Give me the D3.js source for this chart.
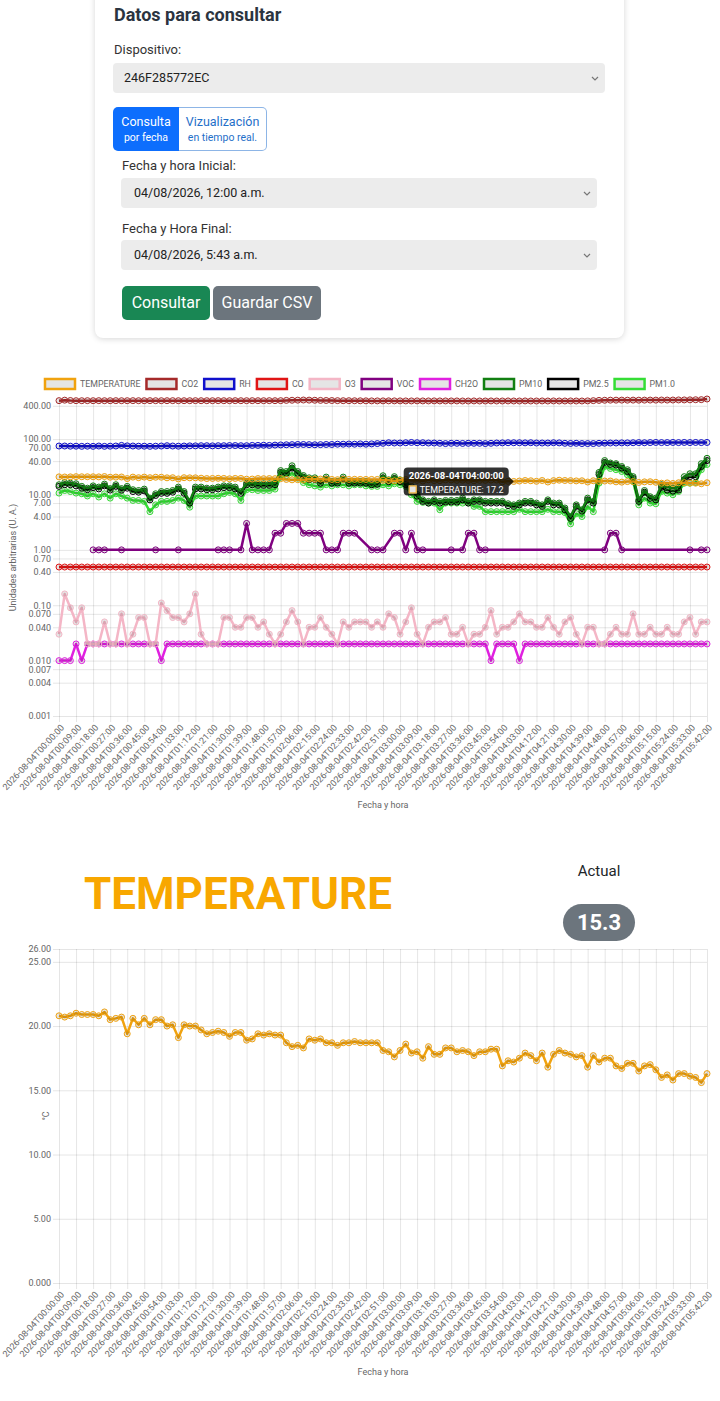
<!DOCTYPE html>
<html lang="es">
<head>
<meta charset="utf-8">
<title>Datos para consultar</title>
<script src="https://cdn.jsdelivr.net/npm/d3@7"></script>
<style>
  body { margin: 0; width: 720px; height: 1401px; position: relative; overflow: hidden;
         background: #fff; font-family: Roboto, "Noto Sans", sans-serif; color: #212529; }
  .abs { position: absolute; }
  .card { left: 95px; top: -20px; width: 529px; height: 358px; background: #fff; border-radius: 8px;
          box-shadow: 0 1px 6px rgba(0,0,0,0.16); }
  .title { font-size: 18px; font-weight: 700; color: #2b3440; line-height: 24px; }
  .lbl { font-size: 13px; line-height: 16px; color: #333; }
  .sel { background: #ececec; border-radius: 4px; font-size: 12.5px; color: #222; line-height: 30px;
         height: 30px; box-sizing: border-box; padding-left: 11px; }
  .sel svg { position: absolute; right: 6px; top: 13px; }
  .grp { left: 113px; top: 107px; width: 154px; height: 44px; display: flex; }
  .grp div { box-sizing: border-box; text-align: center; padding-top: 7px; }
  .grp .l1 { font-size: 12.5px; line-height: 15px; }
  .grp .l2 { font-size: 10.5px; line-height: 18px; }
  .btn { height: 34px; line-height: 34px; border-radius: 5px; color: #fff; font-size: 16px; text-align: center; }
</style>
</head>
<body>

<svg id="charts" class="abs" width="720" height="1401" style="left:0;top:0"></svg>

<div class="abs card"></div>
<div class="abs title" style="left:114px;top:3px">Datos para consultar</div>
<div class="abs lbl" style="left:114px;top:42px">Dispositivo:</div>
<div class="abs sel" style="left:113px;top:63px;width:492px">246F285772EC<svg width="8" height="5"><path d="M1 1L4 4L7 1" stroke="#777" fill="none" stroke-width="1.2"/></svg></div>
<div class="abs grp">
  <div style="width:66px;background:#0d6efd;color:#fff;border-radius:5px 0 0 5px">
    <div class="l1" style="padding:0">Consulta</div><div class="l2" style="padding:0">por fecha</div></div>
  <div style="width:88px;color:#1f6fc9;border:1px solid #8db5e6;border-left:none;border-radius:0 5px 5px 0;padding-top:6px">
    <div class="l1" style="padding:0">Vizualización</div><div class="l2" style="padding:0">en tiempo real.</div></div>
</div>
<div class="abs lbl" style="left:122px;top:158px">Fecha y hora Inicial:</div>
<div class="abs sel" style="left:121px;top:178px;width:476px;padding-left:13px">04/08/2026, 12:00 a.m.<svg width="8" height="5"><path d="M1 1L4 4L7 1" stroke="#777" fill="none" stroke-width="1.2"/></svg></div>
<div class="abs lbl" style="left:122px;top:221px">Fecha y Hora Final:</div>
<div class="abs sel" style="left:121px;top:240px;width:476px;padding-left:13px">04/08/2026, 5:43 a.m.<svg width="8" height="5"><path d="M1 1L4 4L7 1" stroke="#777" fill="none" stroke-width="1.2"/></svg></div>
<div class="abs btn" style="left:122px;top:286px;width:88px;background:#198754">Consultar</div>
<div class="abs btn" style="left:213px;top:286px;width:108px;background:#6c757d">Guardar CSV</div>

<div class="abs" style="left:84px;top:872px;font-size:44px;line-height:44px;font-weight:700;color:#f8a700">TEMPERATURE</div>
<div class="abs" style="left:560px;top:862px;width:78px;text-align:center;font-size:15px;line-height:18px;color:#212529">Actual</div>
<div class="abs" style="left:563px;top:904px;width:72px;height:37px;line-height:37px;border-radius:18.5px;background:#6c757d;color:#fff;font-weight:700;font-size:22px;text-align:center">15.3</div>

<script>
// time stamps every 3 minutes, 00:00 .. 05:42
var times = d3.range(0, 343, 3).map(function(m) {
  return "2026-08-04T0" + Math.floor(m / 60) + ":" + String(m % 60).padStart(2, "0") + ":00";
});
var tickTimes = times.filter(function(d, i) { return i % 3 === 0; });

var logTicks = [0.001, 0.004, 0.007, 0.01, 0.04, 0.07, 0.1, 0.4, 0.7, 1, 4, 7, 10, 40, 70, 100, 400];
var logTickLabels = ["0.001", "0.004", "0.007", "0.010", "0.040", "0.070", "0.10", "0.40", "0.70",
                     "1.00", "4.00", "7.00", "10.00", "40.00", "70.00", "100.00", "400.00"];
var tempTicks = [0, 5, 10, 15, 20, 25, 26];
var tempTickLabels = ["0.000", "5.00", "10.00", "15.00", "20.00", "25.00", "26.00"];

var temperature = [
  20.8, 20.7, 20.8, 21.0, 20.9, 20.9, 20.9, 20.8, 21.1, 20.5,
  20.6, 20.7, 19.4, 20.6, 20.1, 20.6, 20.1, 20.5, 20.5, 20.0,
  20.1, 19.1, 20.1, 20.0, 20.0, 19.7, 19.4, 19.5, 19.6, 19.5,
  19.2, 19.5, 19.5, 18.9, 19.0, 19.4, 19.3, 19.4, 19.3, 19.3,
  18.7, 18.4, 18.5, 18.3, 19.0, 18.9, 19.0, 18.7, 18.7, 18.5,
  18.7, 18.7, 18.8, 18.7, 18.7, 18.7, 18.7, 18.1, 18.0, 17.6,
  18.1, 18.6, 17.9, 18.0, 17.5, 18.4, 17.8, 17.8, 18.3, 18.3,
  18.0, 18.1, 18.0, 17.7, 18.0, 18.0, 18.2, 18.2, 16.9, 17.3,
  17.2, 17.5, 17.9, 17.7, 17.3, 17.9, 16.8, 17.8, 18.1, 17.9,
  17.8, 17.6, 17.7, 16.8, 17.7, 17.2, 17.5, 17.5, 16.9, 16.7,
  17.1, 17.1, 16.5, 16.9, 17.0, 16.6, 16.0, 16.2, 15.8, 16.3,
  16.3, 16.1, 16.0, 15.6, 16.3
];

var co2 = [
  495, 505, 498, 494, 494, 495, 494, 495, 494, 494,
  495, 494, 494, 495, 494, 494, 495, 494, 494, 494,
  495, 494, 494, 494, 495, 494, 494, 494, 495, 494,
  494, 495, 494, 494, 495, 494, 494, 495, 494, 495,
  500, 503, 505, 508, 506, 503, 500, 498, 497, 495,
  494, 494, 493, 492, 491, 490, 490, 490, 491, 490,
  490, 489, 489, 490, 489, 489, 490, 489, 489, 489,
  489, 488, 488, 489, 488, 488, 489, 488, 488, 489,
  488, 488, 489, 488, 488, 489, 488, 489, 488, 488,
  489, 488, 488, 490, 495, 500, 503, 505, 505, 506,
  505, 506, 505, 506, 507, 506, 508, 507, 508, 510,
  510, 512, 514, 516, 530
];

var rh = [
  75, 75, 74.5, 74.5, 74, 74.5, 74, 75, 74, 74.5,
  75, 77, 75.5, 75, 74.5, 74.5, 74, 74.5, 75, 76,
  75, 74.5, 75, 75.5, 75.5, 76, 76, 75.5, 76, 76,
  76.5, 76.5, 76, 76, 77, 77, 77.5, 77, 78, 78.5,
  79, 79.5, 80, 80, 79.5, 79, 79.5, 80, 80, 81,
  81, 81.5, 81, 82, 81, 82, 83, 84, 86, 85,
  85, 86, 87, 86, 86, 85, 85, 84, 83, 84,
  84, 83.5, 84, 84, 84, 83, 84, 85, 85.5, 86,
  86, 86, 85.5, 86, 85, 85, 85, 86, 85.5, 84,
  83.5, 84, 83, 83, 83, 84, 84.5, 85, 85, 85.5,
  85.5, 86, 86.5, 86, 86.5, 87, 86.5, 86.5, 87, 86.5,
  87, 86.5, 87, 86.5, 87
];

var co = [
  0.49, 0.49, 0.49, 0.49, 0.49, 0.49, 0.49, 0.49, 0.49, 0.49,
  0.49, 0.49, 0.49, 0.49, 0.49, 0.49, 0.49, 0.49, 0.49, 0.49,
  0.49, 0.49, 0.49, 0.49, 0.49, 0.49, 0.49, 0.49, 0.49, 0.49,
  0.49, 0.49, 0.49, 0.49, 0.49, 0.49, 0.49, 0.49, 0.49, 0.49,
  0.49, 0.49, 0.49, 0.49, 0.49, 0.49, 0.49, 0.49, 0.49, 0.49,
  0.49, 0.49, 0.49, 0.49, 0.49, 0.49, 0.49, 0.49, 0.49, 0.49,
  0.49, 0.49, 0.49, 0.49, 0.49, 0.49, 0.49, 0.49, 0.49, 0.49,
  0.49, 0.49, 0.49, 0.49, 0.49, 0.49, 0.49, 0.49, 0.49, 0.49,
  0.49, 0.49, 0.49, 0.49, 0.49, 0.49, 0.49, 0.49, 0.49, 0.49,
  0.49, 0.49, 0.49, 0.49, 0.49, 0.49, 0.49, 0.49, 0.49, 0.49,
  0.49, 0.49, 0.49, 0.49, 0.49, 0.49, 0.49, 0.49, 0.49, 0.49,
  0.49, 0.49, 0.49, 0.49, 0.49
];

var o3 = [
  0.03, 0.16, 0.09, 0.05, 0.09, 0.02, 0.02, 0.02, 0.05, 0.02,
  0.02, 0.07, 0.02, 0.03, 0.06, 0.06, 0.02, 0.02, 0.11, 0.08,
  0.06, 0.06, 0.05, 0.07, 0.16, 0.03, 0.02, 0.02, 0.02, 0.06,
  0.06, 0.04, 0.04, 0.06, 0.06, 0.04, 0.05, 0.03, 0.02, 0.03,
  0.05, 0.08, 0.05, 0.02, 0.04, 0.04, 0.06, 0.04, 0.03, 0.02,
  0.05, 0.04, 0.05, 0.05, 0.05, 0.04, 0.05, 0.04, 0.07, 0.06,
  0.03, 0.05, 0.09, 0.03, 0.02, 0.04, 0.05, 0.05, 0.06, 0.03,
  0.03, 0.04, 0.02, 0.03, 0.03, 0.04, 0.08, 0.03, 0.04, 0.04,
  0.05, 0.07, 0.05, 0.05, 0.04, 0.04, 0.06, 0.04, 0.03, 0.05,
  0.06, 0.03, 0.02, 0.04, 0.04, 0.02, 0.02, 0.03, 0.04, 0.03,
  0.03, 0.07, 0.03, 0.03, 0.04, 0.03, 0.03, 0.04, 0.03, 0.03,
  0.05, 0.06, 0.03, 0.05, 0.05
];

var voc = [
  null, null, null, null, null, null, 1, 1, 1, null,
  null, 1, null, null, null, null, null, 1, null, null,
  null, 1, null, null, null, null, null, null, 1, 1,
  1, null, 1, 3, 1, 1, 1, 1, 2, 2,
  3, 3, 3, 2, 2, 2, 2, 1, 1, 1,
  2, 2, 2, null, null, 1, 1, 1, null, 2,
  2, 1, 2, 1, 1, null, null, null, null, 1,
  null, 1, 2, 2, 1, 1, null, null, null, null,
  null, null, null, null, null, null, null, null, null, null,
  null, null, null, null, null, null, 1, 2, 2, 1,
  null, null, null, null, null, null, null, null, null, null,
  null, 1, null, 1, 1
];

var ch2o = [
  0.01, 0.01, 0.01, 0.02, 0.01, 0.02, 0.02, 0.02, 0.02, 0.02,
  0.02, 0.02, 0.02, 0.02, 0.02, 0.02, 0.02, 0.02, 0.01, 0.02,
  0.02, 0.02, 0.02, 0.02, 0.02, 0.02, 0.02, 0.02, 0.02, 0.02,
  0.02, 0.02, 0.02, 0.02, 0.02, 0.02, 0.02, 0.02, 0.02, 0.02,
  0.02, 0.02, 0.02, 0.02, 0.02, 0.02, 0.02, 0.02, 0.02, 0.02,
  0.02, 0.02, 0.02, 0.02, 0.02, 0.02, 0.02, 0.02, 0.02, 0.02,
  0.02, 0.02, 0.02, 0.02, 0.02, 0.02, 0.02, 0.02, 0.02, 0.02,
  0.02, 0.02, 0.02, 0.02, 0.02, 0.02, 0.01, 0.02, 0.02, 0.02,
  0.02, 0.01, 0.02, 0.02, 0.02, 0.02, 0.02, 0.02, 0.02, 0.02,
  0.02, 0.02, 0.02, 0.02, 0.02, 0.02, 0.02, 0.02, 0.02, 0.02,
  0.02, 0.02, 0.02, 0.02, 0.02, 0.02, 0.02, 0.02, 0.02, 0.02,
  0.02, 0.02, 0.02, 0.02, 0.02
];

var pm10 = [
  15.0, 16.4, 16.0, 15.6, 14.0, 13.0, 14.3, 13.6, 15.4, 12.8,
  15.0, 12.8, 14.0, 12.2, 11.8, 12.5, 8.6, 10.3, 11.3, 11.3,
  11.8, 13.6, 11.3, 7.5, 13.6, 13.6, 13.0, 13.0, 13.6, 14.3,
  14.3, 13.6, 11.3, 16.0, 16.0, 15.6, 15.6, 15.6, 16.0, 27.0,
  26.0, 33.0, 26.0, 22.0, 20.0, 20.0, 17.2, 20.6, 17.2, 17.2,
  20.6, 17.2, 17.2, 17.2, 17.2, 16.0, 16.4, 21.8, 18.4, 21.0,
  18.4, 16.0, 14.0, 10.0, 8.0, 7.5, 8.0, 7.5, 7.8, 7.8,
  7.8, 8.6, 7.5, 8.0, 8.0, 7.5, 7.5, 7.5, 7.5, 6.8,
  6.5, 7.0, 7.5, 7.5, 7.0, 6.5, 8.0, 7.0, 7.0, 5.7,
  4.0, 6.5, 5.3, 8.6, 7.5, 25.0, 41.0, 37.0, 36.0, 32.0,
  28.0, 21.0, 8.0, 11.8, 9.1, 8.6, 15.0, 13.6, 13.0, 13.6,
  21.0, 23.7, 23.7, 36.0, 45.0
];

var pm25 = [
  14.0, 15.0, 15.0, 14.3, 13.0, 12.2, 13.3, 12.6, 14.3, 12.0,
  14.0, 12.0, 13.0, 11.3, 11.0, 11.6, 8.0, 9.6, 10.5, 10.5,
  11.0, 12.6, 10.5, 7.0, 12.6, 12.6, 12.2, 12.2, 12.6, 13.3,
  13.3, 12.6, 10.5, 15.0, 15.0, 14.6, 14.6, 14.6, 15.0, 25.0,
  24.0, 30.0, 24.0, 20.5, 18.6, 18.6, 16.0, 19.0, 16.0, 16.0,
  19.0, 16.0, 16.0, 16.0, 16.0, 15.0, 15.3, 20.0, 17.0, 19.5,
  17.0, 15.0, 13.0, 9.3, 7.5, 7.0, 7.5, 7.0, 7.3, 7.3,
  7.3, 8.0, 7.0, 7.5, 7.5, 7.0, 7.0, 7.0, 7.0, 6.3,
  6.1, 6.5, 7.0, 7.0, 6.5, 6.1, 7.5, 6.5, 6.5, 5.3,
  3.7, 6.1, 5.0, 8.0, 7.0, 23.0, 38.0, 35.0, 34.0, 30.0,
  26.0, 19.5, 7.5, 11.0, 8.5, 8.0, 13.5, 12.0, 11.5, 12.0,
  18.5, 21.0, 21.0, 32.0, 41.0
];

var pm1 = [
  10.6, 11.8, 11.3, 10.6, 10.3, 9.4, 10.3, 9.0, 10.3, 8.6,
  10.3, 9.4, 8.6, 7.8, 7.8, 7.5, 4.9, 6.5, 7.5, 7.5,
  7.8, 8.6, 7.8, 5.9, 9.4, 9.4, 9.4, 9.4, 9.4, 10.3,
  10.9, 10.3, 7.8, 12.2, 12.2, 11.8, 11.8, 11.8, 12.5, 20.6,
  21.8, 24.4, 19.8, 16.4, 15.0, 14.3, 13.6, 15.0, 14.3, 15.0,
  15.0, 14.3, 15.0, 15.0, 14.3, 14.0, 14.0, 15.0, 14.3, 15.6,
  15.0, 14.0, 9.9, 7.5, 7.2, 7.0, 7.0, 5.3, 7.0, 7.0,
  7.0, 7.0, 7.0, 6.1, 6.1, 4.9, 4.9, 4.9, 4.9, 4.9,
  4.9, 5.4, 4.9, 4.9, 4.9, 4.9, 5.4, 4.9, 4.9, 4.7,
  2.95, 4.5, 4.0, 6.1, 4.9, 16.0, 32.0, 29.5, 28.0, 26.0,
  22.7, 17.2, 6.5, 8.6, 7.0, 6.8, 11.3, 10.6, 9.9, 11.3,
  16.0, 16.0, 16.5, 28.0, 34.8
];

var series = [
  { name: "TEMPERATURE", color: "#f0a20f", values: temperature },
  { name: "CO2", color: "#a52a2a", values: co2 },
  { name: "RH", color: "#1010cc", values: rh },
  { name: "CO", color: "#e01515", values: co },
  { name: "O3", color: "#f4b6c6", values: o3 },
  { name: "VOC", color: "#800080", values: voc },
  { name: "CH2O", color: "#e020e0", values: ch2o },
  { name: "PM10", color: "#127f12", values: pm10 },
  { name: "PM2.5", color: "#000000", values: pm25 },
  { name: "PM1.0", color: "#35dd35", values: pm1 }
];

var gridColor = "rgba(0,0,0,0.1)";
var textColor = "#666";
var font = "Roboto, 'Noto Sans', sans-serif";
var svg = d3.select("#charts");

function drawAxes(g, x, y, yTicks, yLabels, yTitle, yTitleX) {
  var xr = x.range(), yr = y.range();
  var ya = g.append("g").attr("transform", "translate(" + xr[0] + ",0)")
    .call(d3.axisLeft(y).tickValues(yTicks).tickFormat(function(d, i) { return yLabels[i]; })
      .tickSizeInner(-(xr[1] - xr[0])).tickSizeOuter(0).tickPadding(8));
  ya.select(".domain").remove();
  ya.selectAll(".tick line").attr("x1", -6).attr("stroke", gridColor);
  ya.selectAll("text").attr("fill", textColor).attr("font-size", 9).attr("font-family", font);

  var xa = g.append("g").attr("transform", "translate(0," + yr[0] + ")")
    .call(d3.axisBottom(x).tickValues(tickTimes).tickSizeInner(-(yr[0] - yr[1])).tickSizeOuter(0));
  xa.select(".domain").remove();
  xa.selectAll(".tick line").attr("y1", 6).attr("stroke", gridColor);
  xa.selectAll("text").attr("x", 0).attr("y", 0).attr("dy", "0.35em")
    .attr("transform", "translate(3,10) rotate(-47)")
    .style("text-anchor", "end")
    .attr("fill", textColor).attr("font-size", 9).attr("font-family", font);

  g.append("text").attr("transform", "translate(" + yTitleX + "," + (yr[0] + yr[1]) / 2 + ") rotate(-90)")
    .attr("text-anchor", "middle").attr("dy", "0.35em")
    .attr("fill", textColor).attr("font-size", 9).attr("font-family", font).text(yTitle);
  g.append("text").attr("x", (xr[0] + xr[1]) / 2).attr("y", yr[0] + 89)
    .attr("text-anchor", "middle").attr("dy", "0.35em")
    .attr("fill", textColor).attr("font-size", 9).attr("font-family", font).text("Fecha y hora");
}

function drawSeries(g, x, y, s) {
  var pts = s.values.map(function(v, i) { return { t: times[i], v: v }; })
    .filter(function(d) { return d.v != null; });
  var line = d3.line().x(function(d) { return x(d.t); }).y(function(d) { return y(d.v); });
  var sg = g.append("g");
  sg.append("path").datum(pts).attr("d", line)
    .attr("fill", "none").attr("stroke", s.color).attr("stroke-width", 2.5).attr("stroke-linejoin", "round");
  sg.selectAll("circle").data(pts).join("circle")
    .attr("cx", function(d) { return x(d.t); })
    .attr("cy", function(d) { return y(d.v); })
    .attr("r", 3)
    .attr("fill", "rgba(0,0,0,0.1)").attr("stroke", s.color).attr("stroke-width", 1);
}

// ---- chart 1: all sensors, log scale ----
var x1 = d3.scalePoint().domain(times).range([59, 707]);
var yLog = d3.scaleLog().domain([0.001, d3.max(co2)]).range([716, 399]);
var g1 = svg.append("g");
drawAxes(g1, x1, yLog, logTicks, logTickLabels, "Unidades arbitrarias (U. A.)", 13);
series.slice().reverse().forEach(function(s) { drawSeries(g1, x1, yLog, s); });

// legend
var legend = g1.append("g");
var lx = 0;
series.forEach(function(s) {
  var item = legend.append("g").attr("transform", "translate(" + lx + ",0)");
  item.append("rect").attr("x", 0).attr("y", -5).attr("width", 30).attr("height", 10)
    .attr("fill", "rgba(0,0,0,0.1)").attr("stroke", s.color).attr("stroke-width", 2.5);
  var t = item.append("text").attr("x", 35).attr("dy", "0.35em")
    .attr("fill", textColor).attr("font-size", 8.8).attr("font-family", font).text(s.name);
  lx += 35 + t.node().getComputedTextLength() + 6;
});
legend.attr("transform", "translate(" + (360 - (lx - 6) / 2) + ",384)");

// tooltip at 04:00
var tipT = "2026-08-04T04:00:00";
var tipV = temperature[times.indexOf(tipT)];
var px = x1(tipT), py = yLog(tipV);
var tip = g1.append("g");
var title = tip.append("text").attr("x", 5).attr("y", 12).attr("fill", "#fff").attr("font-weight", 700)
  .attr("font-size", 9.5).attr("font-family", font).text(tipT);
var label = tip.append("text").attr("x", 16).attr("y", 25.5).attr("fill", "#fff")
  .attr("font-size", 9).attr("font-family", font).text("TEMPERATURE: " + tipV);
var tw = Math.max(title.node().getComputedTextLength(), label.node().getComputedTextLength() + 11) + 10;
var th = 28;
tip.insert("path", "text")
  .attr("d", "M4,0H" + (tw - 4) + "Q" + tw + ",0 " + tw + ",4V" + (th / 2 - 5) + "L" + (tw + 5) + "," + th / 2 +
    "L" + tw + "," + (th / 2 + 5) + "V" + (th - 4) + "Q" + tw + "," + th + " " + (tw - 4) + "," + th +
    "H4Q0," + th + " 0," + (th - 4) + "V4Q0,0 4,0Z")
  .attr("fill", "rgba(0,0,0,0.8)");
tip.insert("rect", "text").attr("x", 5).attr("y", 18).attr("width", 8).attr("height", 8).attr("fill", "#fff");
tip.insert("rect", "text").attr("x", 5.5).attr("y", 18.5).attr("width", 7).attr("height", 7)
  .attr("fill", "rgba(0,0,0,0.1)").attr("stroke", series[0].color);
tip.attr("transform", "translate(" + (px - 5 - tw) + "," + (py - th / 2) + ")");

// ---- chart 2: temperature ----
var x2 = d3.scalePoint().domain(times).range([59, 707]);
var yLin = d3.scaleLinear().domain([0, 26]).range([1283, 949]);
var g2 = svg.append("g");
drawAxes(g2, x2, yLin, tempTicks, tempTickLabels, "°C", 46);
drawSeries(g2, x2, yLin, series[0]);
</script>

</body>
</html>
